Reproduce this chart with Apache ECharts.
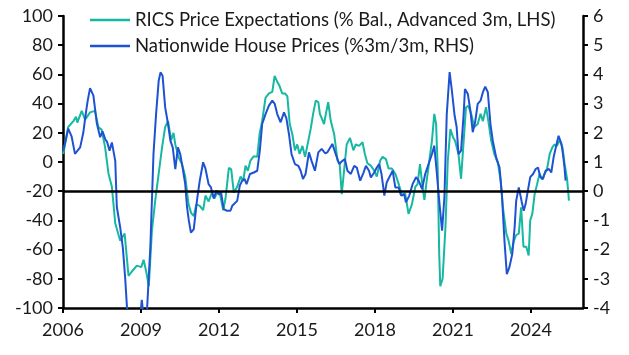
<!DOCTYPE html>
<html>
<head>
<meta charset="utf-8">
<script src="https://cdn.jsdelivr.net/npm/echarts@6/dist/echarts.min.js"></script>
<style>
html,body{margin:0;padding:0;background:#fff;}
#chart{width:629px;height:355px;}
</style>
</head>
<body>
<div id="chart"></div>
<script>
// RICS Price Expectations (% balance, advanced 3m) – left axis
const ricsDates = [2006.01,2006.20,2006.40,2006.50,2006.55,2006.72,2006.85,2007.04,2007.23,2007.36,2007.49,2007.62,2007.75,2007.88,2008.01,2008.20,2008.37,2008.52,2008.65,2008.84,2009.01,2009.10,2009.20,2009.30,2009.42,2009.55,2009.68,2009.81,2009.93,2010.04,2010.16,2010.25,2010.32,2010.45,2010.58,2010.70,2010.83,2010.93,2011.03,2011.13,2011.26,2011.39,2011.48,2011.60,2011.73,2011.82,2011.93,2012.05,2012.16,2012.25,2012.38,2012.47,2012.57,2012.70,2012.83,2012.93,2013.02,2013.11,2013.21,2013.34,2013.47,2013.56,2013.66,2013.79,2013.92,2014.05,2014.14,2014.24,2014.33,2014.43,2014.54,2014.63,2014.72,2014.82,2014.92,2015.01,2015.10,2015.21,2015.31,2015.44,2015.53,2015.62,2015.72,2015.82,2015.88,2015.95,2016.04,2016.10,2016.20,2016.30,2016.43,2016.56,2016.64,2016.72,2016.81,2016.91,2017.04,2017.17,2017.26,2017.39,2017.52,2017.61,2017.71,2017.84,2017.97,2018.07,2018.20,2018.29,2018.42,2018.52,2018.65,2018.78,2018.91,2019.04,2019.16,2019.29,2019.42,2019.55,2019.64,2019.73,2019.83,2019.90,2019.99,2020.09,2020.19,2020.28,2020.35,2020.41,2020.47,2020.51,2020.60,2020.71,2020.80,2020.90,2021.00,2021.08,2021.14,2021.21,2021.31,2021.41,2021.50,2021.59,2021.70,2021.82,2021.95,2022.06,2022.15,2022.27,2022.36,2022.47,2022.59,2022.73,2022.83,2022.92,2023.05,2023.14,2023.24,2023.34,2023.43,2023.53,2023.62,2023.71,2023.82,2023.91,2023.97,2024.05,2024.14,2024.23,2024.33,2024.43,2024.52,2024.61,2024.72,2024.82,2024.91,2025.00,2025.10,2025.21,2025.29,2025.39,2025.46];
const ricsValues = [5.5,24,28,31,27,35,29,34,35,24,22,10,-8,-17,-42,-54,-49,-78,-75,-71,-72,-67,-75,-85,-47,-26,-8,10,24,28,15,20,12,3,-1.5,-10,-29,-35,-37,-29,-30,-33,-23,-27,-21,-25,-21,-23,-33,-25,-4,-5,-21,-17,-10,-13,-2.5,-6,1,4,3.5,19,28,44,47,48,59,55,52,47,47,45,26,19,8,12,5.5,11,3.5,15,23,33,42,41,33,30,26,32,41,28,19,1,-1,-22,-6,12,16.5,8,12,11,13.5,5.5,-1,-2.5,-6,-10,1,3.5,2,-4.5,-4.5,-8,-15,-23,-21.5,-35.5,-29,-17,-15,-1.5,-17,-26,-12.5,1,14.5,33,26,-3.5,-63,-85,-80,-44.5,1,22.5,17,14.5,14.5,5.5,-11.5,14.5,37.5,38.5,33,24,26,33,28,37.5,28,14.5,5.5,-1,-12.5,-31,-49,-54,-63,-54,-50,-49,-31,-58,-58,-64,-40,-35.5,-22,-15.5,-8,-12,-8,-5.5,5.5,10,12,11,15,10,-1,-12,-26.5];

// Nationwide House Prices (%3m/3m) – right axis
const nwDates = [2006.01,2006.20,2006.33,2006.40,2006.46,2006.66,2006.78,2006.88,2006.95,2007.04,2007.17,2007.30,2007.43,2007.52,2007.62,2007.70,2007.79,2007.88,2008.01,2008.07,2008.20,2008.30,2008.39,2008.46,2008.55,2008.70,2008.85,2008.97,2009.03,2009.10,2009.23,2009.36,2009.48,2009.58,2009.68,2009.75,2009.83,2009.93,2010.04,2010.13,2010.22,2010.32,2010.42,2010.51,2010.60,2010.70,2010.77,2010.84,2010.92,2011.03,2011.15,2011.26,2011.39,2011.48,2011.60,2011.69,2011.80,2011.90,2011.99,2012.08,2012.18,2012.31,2012.44,2012.51,2012.57,2012.70,2012.80,2012.89,2012.98,2013.06,2013.19,2013.34,2013.47,2013.57,2013.66,2013.79,2013.92,2014.05,2014.14,2014.24,2014.37,2014.50,2014.59,2014.69,2014.79,2014.92,2015.05,2015.14,2015.23,2015.33,2015.46,2015.56,2015.69,2015.82,2015.95,2016.08,2016.17,2016.36,2016.49,2016.62,2016.75,2016.84,2016.94,2017.07,2017.20,2017.30,2017.43,2017.56,2017.65,2017.77,2017.84,2017.97,2018.07,2018.16,2018.25,2018.36,2018.45,2018.55,2018.68,2018.78,2018.91,2019.00,2019.12,2019.19,2019.32,2019.45,2019.58,2019.68,2019.81,2019.93,2020.06,2020.19,2020.28,2020.37,2020.47,2020.58,2020.67,2020.76,2020.87,2020.95,2021.06,2021.14,2021.21,2021.31,2021.41,2021.46,2021.57,2021.67,2021.76,2021.85,2021.95,2022.06,2022.15,2022.24,2022.34,2022.44,2022.53,2022.66,2022.79,2022.88,2022.98,2023.07,2023.17,2023.28,2023.37,2023.43,2023.53,2023.58,2023.64,2023.72,2023.79,2023.88,2023.97,2024.08,2024.18,2024.27,2024.36,2024.46,2024.56,2024.69,2024.78,2024.87,2024.97,2025.06,2025.17,2025.23,2025.29,2025.33];
const nwValues = [1.37,2.14,1.88,1.85,1.28,1.5,2.0,2.68,3.1,3.53,3.27,2.33,1.85,2.05,1.79,1.68,1.39,1.67,1.04,-0.54,-1.24,-1.92,-2.95,-3.97,-4.6,-5.2,-5.0,-4.3,-3.72,-4.3,-4.1,-1.9,1.27,2.64,3.78,4.07,3.95,2.87,2.3,1.73,1.5,0.76,1.5,1.27,0.81,0.25,-0.54,-1.01,-1.42,-1.3,-0.33,0.36,0.99,0.77,0.24,0.13,-0.25,0.02,-0.1,-0.05,-0.61,-0.67,-0.67,-0.5,-0.56,-0.33,0.19,0.36,0.42,0.24,0.59,0.64,0.7,1.39,2.3,2.64,2.93,3.1,3.0,2.64,2.36,2.7,2.5,1.96,1.27,0.93,0.87,0.7,0.42,0.59,1.33,1.04,0.7,1.33,1.45,1.3,1.33,1.62,1.27,0.93,1.04,1.1,0.7,0.59,0.87,0.81,0.36,0.64,0.87,0.7,0.47,0.64,0.81,0.93,0.59,-0.15,0.3,0.48,0.7,0.13,0.13,-0.15,-0.1,-0.38,-0.15,0.25,0.48,0.36,0.07,0.59,0.93,1.27,1.56,0.7,-0.33,-1.35,-0.2,2.64,4.08,3.5,2.6,2.2,1.27,1.39,2.64,3.5,3.33,2.75,2.02,2.36,2.99,3.1,3.39,3.58,3.39,2.3,1.73,1.16,0.81,-0.1,-1.7,-2.84,-2.6,-2.15,-1.24,-0.33,0.13,0.1,-0.35,-0.67,-0.45,0.02,0.48,0.59,0.76,0.81,0.48,0.42,0.7,0.76,0.64,1.16,1.56,1.9,1.62,1.27,0.81,0.36];

const xTickLabels = [2006, 2009, 2012, 2015, 2018, 2021, 2024];
const seriesNames = ['RICS Price Expectations (% Bal., Advanced 3m, LHS)', 'Nationwide House Prices (%3m/3m, RHS)'];

const TEAL = '#16b8a2';
const BLUE = '#1f52d2';
const FONT = 'Lato';
const TXT = '#1a1a1a';

const zip = (a, b) => a.map((d, i) => [d, b[i]]);

const chart = echarts.init(document.getElementById('chart'), null, {renderer: 'canvas'});
const axisLine = {show: true, onZero: false, lineStyle: {color: '#000', width: 2.5}};
const axisTick = {show: true, inside: false, length: 5, lineStyle: {color: '#000', width: 2}};
const axisLabelBase = {color: TXT, fontSize: 18, fontFamily: FONT};

chart.setOption({
  animation: false,
  backgroundColor: '#fff',
  grid: {left: 63, right: 46, top: 16, bottom: 47, containLabel: false},
  legend: {
    orient: 'vertical', left: 90, top: 10, padding: 0,
    itemWidth: 40, itemHeight: 12, itemGap: 6,
    textStyle: {color: TXT, fontSize: 18.5, fontFamily: FONT, lineHeight: 20},
    data: seriesNames.map(n => ({name: n, icon: 'path://M0,0L40,0L40,2.4L0,2.4Z'}))
  },
  xAxis: {
    type: 'value', min: 2006, max: 2026, interval: 3,
    axisLine: axisLine,
    axisTick: Object.assign({customValues: xTickLabels}, axisTick),
    axisLabel: Object.assign({margin: 13, customValues: xTickLabels, formatter: v => String(v)}, axisLabelBase),
    splitLine: {show: false}
  },
  yAxis: [
    {type: 'value', position: 'left', min: -100, max: 100, interval: 20,
     axisLine: axisLine, axisTick: axisTick,
     axisLabel: Object.assign({margin: 10}, axisLabelBase),
     splitLine: {show: false}},
    {type: 'value', position: 'right', min: -4, max: 6, interval: 1,
     axisLine: axisLine, axisTick: axisTick,
     axisLabel: Object.assign({margin: 10}, axisLabelBase),
     splitLine: {show: false}}
  ],
  series: [
    {name: seriesNames[0], type: 'line', yAxisIndex: 0, data: zip(ricsDates, ricsValues),
     symbol: 'none', clip: true, color: TEAL, lineStyle: {color: TEAL, width: 2},
     markLine: {silent: true, symbol: ['none', 'none'], label: {show: false},
       lineStyle: {color: '#000', width: 2.5, type: 'solid'}, data: [{yAxis: -20}]}},
    {name: seriesNames[1], type: 'line', yAxisIndex: 1, data: zip(nwDates, nwValues),
     symbol: 'none', clip: true, color: BLUE, lineStyle: {color: BLUE, width: 2}}
  ]
});
</script>
</body>
</html>
